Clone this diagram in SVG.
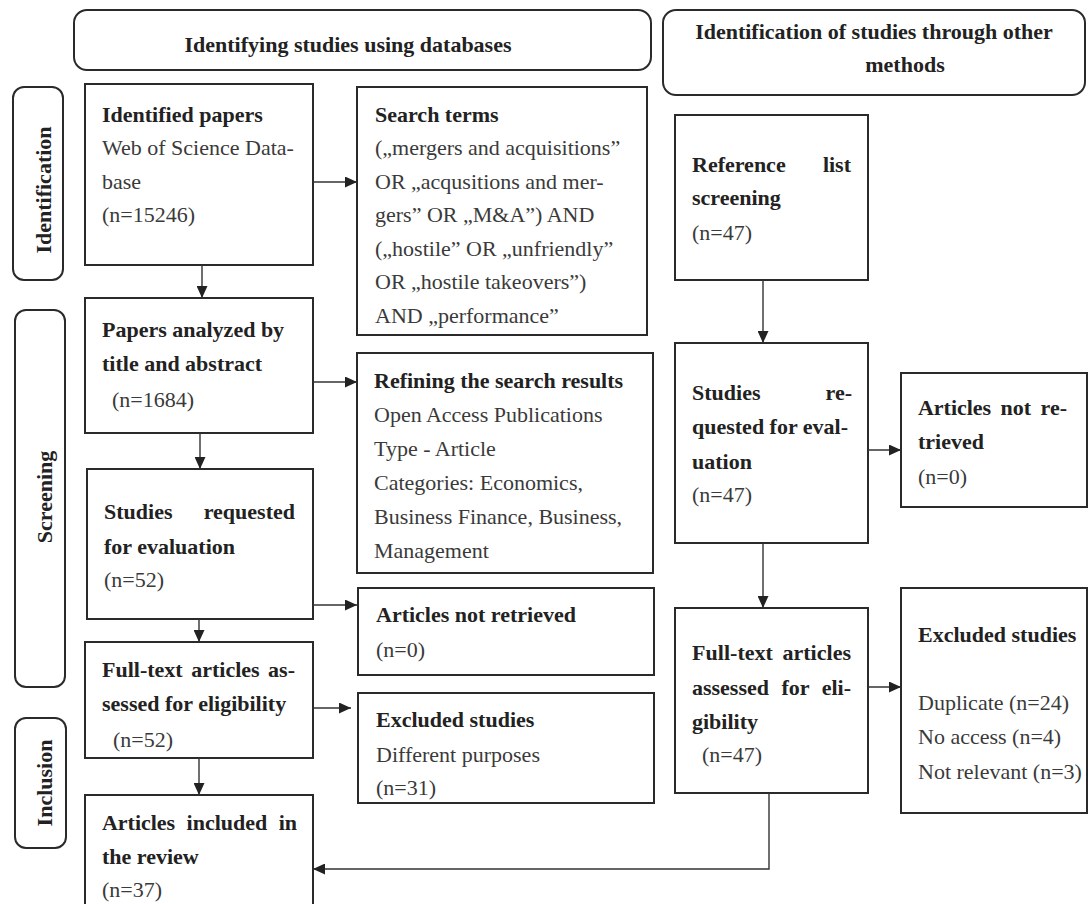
<svg xmlns="http://www.w3.org/2000/svg" width="1088" height="904" viewBox="0 0 1088 904">
  <defs>
    <marker id="arrow" markerUnits="userSpaceOnUse" markerWidth="13" markerHeight="11" refX="12" refY="5.5" orient="auto">
      <path d="M0,0 L12,5.5 L0,11 Z" fill="#222"/>
    </marker>
    <style>
      .box { fill: #fff; stroke: #2a2a2a; stroke-width: 2; }
      .hdr { fill: #fff; stroke: #2a2a2a; stroke-width: 2; }
      .b { font-family: "Liberation Serif", "Times New Roman", serif; font-size: 22px; font-weight: bold; fill: #222; }
      .r { font-family: "Liberation Serif", "Times New Roman", serif; font-size: 22px; fill: #3a3a3a; }
      .mid { text-anchor: middle; }
      .end { text-anchor: end; }
      .conn { fill: none; stroke: #333; stroke-width: 1.4; }
    </style>
  </defs>
  <rect width="1088" height="904" fill="#fff"/>

  <!-- column headers -->
  <g id="header-databases">
    <rect class="hdr" x="74" y="10" width="577" height="60" rx="13"/>
    <text class="b mid" x="348" y="52">Identifying studies using databases</text>
  </g>
  <g id="header-other">
    <rect class="hdr" x="663" y="10" width="422" height="85" rx="13"/>
    <text class="b mid" x="874" y="39">Identification of studies through other</text>
    <text class="b mid" x="905" y="72">methods</text>
  </g>

  <!-- phase labels -->
  <g id="phase-identification">
    <rect class="hdr" x="13" y="87" width="50" height="193" rx="11"/>
    <text class="b mid" transform="translate(51,190) rotate(-90)">Identification</text>
  </g>
  <g id="phase-screening">
    <rect class="hdr" x="15" y="310" width="50" height="377" rx="11"/>
    <text class="b mid" transform="translate(52,497) rotate(-90)">Screening</text>
  </g>
  <g id="phase-inclusion">
    <rect class="hdr" x="15" y="718" width="51" height="130" rx="11"/>
    <text class="b mid" transform="translate(52,783) rotate(-90)">Inclusion</text>
  </g>

  <!-- database column -->
  <g id="identified-papers">
    <rect class="box" x="85" y="84" width="228" height="181"/>
    <text class="b" x="102" y="122">Identified papers</text>
    <text class="r" x="102" y="155">Web of Science Data-</text>
    <text class="r" x="102" y="189">base</text>
    <text class="r" x="102" y="222">(n=15246)</text>
  </g>
  <g id="search-terms">
    <rect class="box" x="357" y="87" width="290" height="248"/>
    <text class="b" x="375" y="122">Search terms</text>
    <text class="r" x="375" y="155">(„mergers and acquisitions”</text>
    <text class="r" x="375" y="189">OR „acqusitions and mer-</text>
    <text class="r" x="375" y="222">gers” OR „M&amp;A”) AND</text>
    <text class="r" x="375" y="256">(„hostile” OR „unfriendly”</text>
    <text class="r" x="375" y="289">OR „hostile takeovers”)</text>
    <text class="r" x="375" y="323">AND „performance”</text>
  </g>
  <g id="papers-analyzed">
    <rect class="box" x="85" y="298" width="228" height="135"/>
    <text class="b" x="102" y="337">Papers analyzed by</text>
    <text class="b" x="102" y="371">title and abstract</text>
    <text class="r" x="112" y="407">(n=1684)</text>
  </g>
  <g id="refining-results">
    <rect class="box" x="357" y="353" width="296" height="220"/>
    <text class="b" x="374" y="388">Refining the search results</text>
    <text class="r" x="374" y="422">Open Access Publications</text>
    <text class="r" x="374" y="456">Type - Article</text>
    <text class="r" x="374" y="490">Categories: Economics,</text>
    <text class="r" x="374" y="524">Business Finance, Business,</text>
    <text class="r" x="374" y="558">Management</text>
  </g>
  <g id="studies-requested-db">
    <rect class="box" x="87" y="469" width="226" height="150"/>
    <text class="b" x="104" y="519">Studies</text>
    <text class="b end" x="295" y="519">requested</text>
    <text class="b" x="104" y="554">for evaluation</text>
    <text class="r" x="104" y="587">(n=52)</text>
  </g>
  <g id="not-retrieved-db">
    <rect class="box" x="358" y="588" width="296" height="87"/>
    <text class="b" x="376" y="622">Articles not retrieved</text>
    <text class="r" x="376" y="657">(n=0)</text>
  </g>
  <g id="full-text-db">
    <rect class="box" x="85" y="642" width="228" height="116"/>
    <text class="b" x="102" y="677" word-spacing="3" textLength="193" lengthAdjust="spacing">Full-text articles as-</text>
    <text class="b" x="102" y="711">sessed for eligibility</text>
    <text class="r" x="113" y="747">(n=52)</text>
  </g>
  <g id="excluded-db">
    <rect class="box" x="358" y="693" width="296" height="110"/>
    <text class="b" x="376" y="727">Excluded studies</text>
    <text class="r" x="376" y="762">Different purposes</text>
    <text class="r" x="376" y="795">(n=31)</text>
  </g>
  <g id="included">
    <rect class="box" x="85" y="795" width="228" height="112"/>
    <text class="b" x="102" y="830" word-spacing="6" textLength="195" lengthAdjust="spacing">Articles included in</text>
    <text class="b" x="102" y="864">the review</text>
    <text class="r" x="102" y="897">(n=37)</text>
  </g>

  <!-- other-methods column -->
  <g id="reference-list">
    <rect class="box" x="675" y="115" width="193" height="165"/>
    <text class="b" x="692" y="172">Reference</text>
    <text class="b end" x="851" y="172">list</text>
    <text class="b" x="692" y="205">screening</text>
    <text class="r" x="692" y="240">(n=47)</text>
  </g>
  <g id="studies-requested-other">
    <rect class="box" x="675" y="343" width="193" height="200"/>
    <text class="b" x="692" y="400">Studies</text>
    <text class="b end" x="852" y="400">re-</text>
    <text class="b" x="692" y="434">quested for eval-</text>
    <text class="b" x="692" y="469">uation</text>
    <text class="r" x="692" y="502">(n=47)</text>
  </g>
  <g id="not-retrieved-other">
    <rect class="box" x="901" y="373" width="186" height="134"/>
    <text class="b" x="918" y="415" word-spacing="4" textLength="149" lengthAdjust="spacing">Articles not re-</text>
    <text class="b" x="918" y="449">trieved</text>
    <text class="r" x="918" y="484">(n=0)</text>
  </g>
  <g id="full-text-other">
    <rect class="box" x="675" y="608" width="193" height="185"/>
    <text class="b" x="692" y="660" word-spacing="4" textLength="159" lengthAdjust="spacing">Full-text articles</text>
    <text class="b" x="692" y="695" word-spacing="7" textLength="159" lengthAdjust="spacing">assessed for eli-</text>
    <text class="b" x="692" y="729">gibility</text>
    <text class="r" x="702" y="762">(n=47)</text>
  </g>
  <g id="excluded-other">
    <rect class="box" x="901" y="588" width="186" height="225"/>
    <text class="b" x="918" y="642">Excluded studies</text>
    <text class="r" x="918" y="710">Duplicate (n=24)</text>
    <text class="r" x="918" y="744">No access (n=4)</text>
    <text class="r" x="918" y="779">Not relevant (n=3)</text>
  </g>

  <!-- connectors -->
  <g id="connectors">
    <path class="conn" d="M313,182 H357" marker-end="url(#arrow)"/>
    <path class="conn" d="M202,265 V298" marker-end="url(#arrow)"/>
    <path class="conn" d="M313,382 H357" marker-end="url(#arrow)"/>
    <path class="conn" d="M200,433 V469" marker-end="url(#arrow)"/>
    <path class="conn" d="M313,605 H357" marker-end="url(#arrow)"/>
    <path class="conn" d="M199,619 V642" marker-end="url(#arrow)"/>
    <path class="conn" d="M313,708 H351" marker-end="url(#arrow)"/>
    <path class="conn" d="M199,758 V795" marker-end="url(#arrow)"/>
    <path class="conn" d="M763,280 V343" marker-end="url(#arrow)"/>
    <path class="conn" d="M868,450 H901" marker-end="url(#arrow)"/>
    <path class="conn" d="M763,543 V608" marker-end="url(#arrow)"/>
    <path class="conn" d="M868,687 H901" marker-end="url(#arrow)"/>
    <path class="conn" d="M769,793 V869 H313" marker-end="url(#arrow)"/>
  </g>
</svg>
